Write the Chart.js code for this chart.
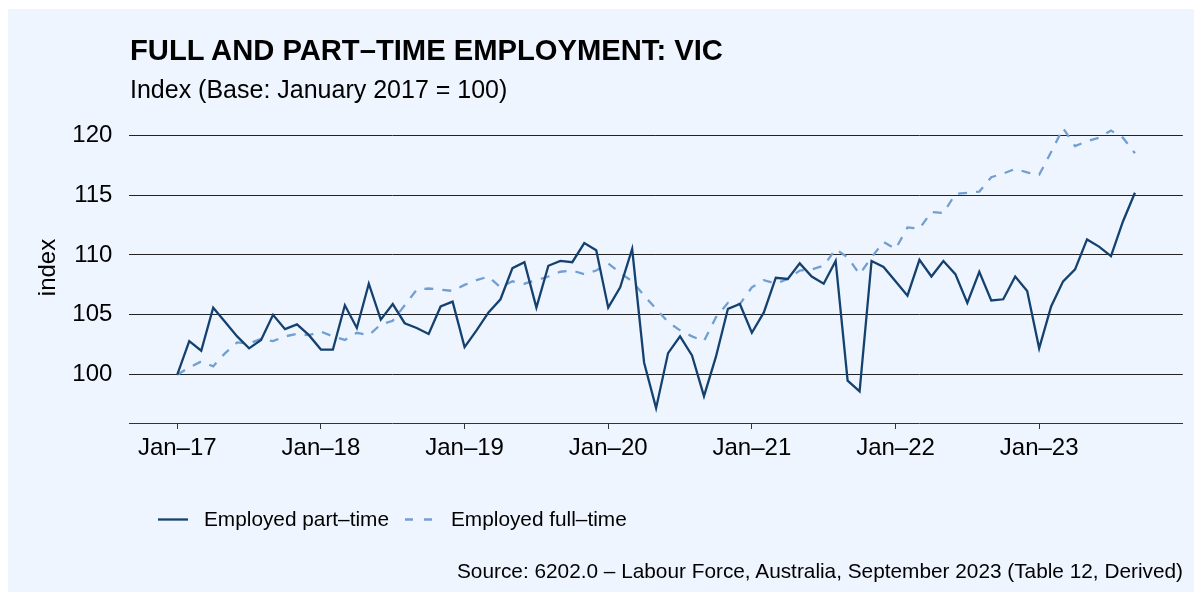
<!DOCTYPE html>
<html>
<head>
<meta charset="utf-8">
<script src="https://cdn.jsdelivr.net/npm/chart.js@4/dist/chart.umd.min.js"></script>
<style>
  html, body { margin: 0; padding: 0; background: #ffffff; }
  body { width: 1202px; height: 600px; position: relative; overflow: hidden;
         font-family: 'Liberation Sans', Arial, Helvetica, sans-serif; color: #000; }
  #panel { position: absolute; left: 8px; top: 9px; width: 1186px; height: 583px; background: #EEF5FF; }
  #wrap { position: absolute; left: 0; top: 0; width: 1202px; height: 600px; }
  .txt { position: absolute; white-space: nowrap; line-height: 1; }
  #title { left: 130px; top: 36px; font-size: 29.2px; font-weight: bold; }
  #subtitle { left: 130px; top: 77px; font-size: 25px; }
  #source { right: 19px; top: 561px; font-size: 20.8px; }
  #legend { position: absolute; left: 0; top: 509px; height: 21px; font-size: 20.8px; }
  #legend svg { position: absolute; top: 0; }
</style>
</head>
<body>
<div id="panel"></div>
<div id="wrap"><canvas id="c" width="1202" height="600"></canvas></div>
<div class="txt" id="title">FULL AND PART–TIME EMPLOYMENT: VIC</div>
<div class="txt" id="subtitle">Index (Base: January 2017 = 100)</div>
<div id="legend">
  <svg style="left:156px" width="34" height="21"><line x1="2" y1="10.5" x2="32" y2="10.5" stroke="#15416F" stroke-width="2.3"/></svg>
  <div class="txt" style="left:204px; top:0;">Employed part–time</div>
  <svg style="left:403px" width="34" height="21"><line x1="2" y1="10.5" x2="30" y2="10.5" stroke="#729FD2" stroke-width="2.3" stroke-dasharray="8,11"/></svg>
  <div class="txt" style="left:451px; top:0;">Employed full–time</div>
</div>
<div class="txt" id="source">Source: 6202.0 – Labour Force, Australia, September 2023 (Table 12, Derived)</div>
<script>
// ---- Data (monthly, Jan 2017 .. Sep 2023; index Jan 2017 = 100) ----
const seriesNames = ['Employed part–time', 'Employed full–time'];
const startYear = 2017;
const partTime = [
  100.0, 102.8, 102.0, 105.6, 104.4, 103.2, 102.2, 102.9, 105.0, 103.8, 104.2, 103.3,
  102.1, 102.1, 105.8, 103.9, 107.6, 104.6, 105.9, 104.3, 103.9, 103.4, 105.7, 106.1,
  102.3, 103.7, 105.2, 106.3, 108.9, 109.4, 105.6, 109.1, 109.5, 109.4, 111.0, 110.4,
  105.6, 107.3, 110.5, 101.0, 97.2, 101.8, 103.2, 101.6, 98.2, 101.5, 105.5, 105.9,
  103.5, 105.2, 108.1, 108.0, 109.3, 108.2, 107.6, 109.5, 99.5, 98.6, 109.5, 109.0,
  107.8, 106.6, 109.6, 108.2, 109.5, 108.4, 106.0, 108.6, 106.2, 106.3, 108.2, 107.0,
  102.2, 105.7, 107.8, 108.8, 111.3, 110.7, 109.9, 112.8, 115.2
];
const fullTime = [
  100.0, 100.6, 101.1, 100.7, 101.8, 102.7, 102.6, 103.0, 102.8, 103.2, 103.4, 103.3,
  103.6, 103.2, 102.9, 103.5, 103.3, 104.2, 104.5, 105.8, 107.1, 107.2, 107.1, 107.0,
  107.5, 107.9, 108.2, 107.3, 107.8, 107.6, 107.9, 108.2, 108.6, 108.7, 108.4, 108.7,
  109.3, 108.5, 107.8, 106.6, 105.5, 104.4, 103.7, 103.2, 102.8, 104.8, 106.0, 105.9,
  107.3, 107.9, 107.6, 108.0, 108.7, 108.8, 109.1, 110.5, 109.8, 108.4, 109.8, 111.1,
  110.5, 112.3, 112.2, 113.6, 113.5, 115.1, 115.2, 115.3, 116.5, 116.8, 117.2, 116.9,
  116.7, 118.6, 120.6, 119.1, 119.5, 119.8, 120.4, 119.8, 118.5
];
const xTickMonths = [0, 12, 24, 36, 48, 60, 72];
const xTickLabels = ['Jan–17', 'Jan–18', 'Jan–19', 'Jan–20', 'Jan–21', 'Jan–22', 'Jan–23'];
const yTickValues = [100, 105, 110, 115, 120];
const yAxisTitle = 'index';

// month index -> point objects
const toPoints = arr => arr.map((v, i) => ({ x: i, y: v }));

Chart.defaults.font.family = "'Liberation Sans', Arial, Helvetica, sans-serif";
Chart.defaults.color = '#000';

new Chart(document.getElementById('c'), {
  type: 'line',
  data: {
    datasets: [
      { label: seriesNames[0], data: toPoints(partTime), borderColor: '#15416F', borderWidth: 2.3,
        pointRadius: 0, tension: 0, fill: false, order: 1 },
      { label: seriesNames[1], data: toPoints(fullTime), borderColor: '#729FD2', borderWidth: 2.3,
        borderDash: [9, 9], pointRadius: 0, tension: 0, fill: false, order: 2 }
    ]
  },
  options: {
    responsive: false,
    animation: false,
    events: [],
    layout: { padding: { left: 0, right: 19.2, top: 112, bottom: 0 } },
    plugins: { legend: { display: false }, title: { display: false }, tooltip: { enabled: false } },
    scales: {
      x: {
        type: 'linear',
        min: -4, max: 84,
        afterBuildTicks: s => { s.ticks = xTickMonths.map(v => ({ value: v })); },
        afterFit: s => { s.height = 177; },
        ticks: {
          font: { size: 24 }, color: '#000', padding: 4.6, maxRotation: 0, autoSkip: false,
          callback: v => { const k = xTickMonths.indexOf(v); return k >= 0 ? xTickLabels[k] : ''; }
        },
        grid: { drawOnChartArea: false, drawTicks: true, tickLength: 6, color: '#333', lineWidth: 1 },
        border: { display: true, color: '#333', width: 1 }
      },
      y: {
        type: 'linear',
        min: 95.96, max: 121.95,
        afterBuildTicks: s => { s.ticks = yTickValues.map(v => ({ value: v })); },
        afterFit: s => { s.width = 129.4; },
        ticks: { font: { size: 24 }, color: '#000', padding: 17 },
        grid: { drawTicks: false, color: '#222', lineWidth: 1 },
        border: { display: false },
        title: { display: true, text: yAxisTitle, font: { size: 24 }, color: '#000', padding: { top: 33.6 } }
      }
    }
  }
});
</script>
</body>
</html>
